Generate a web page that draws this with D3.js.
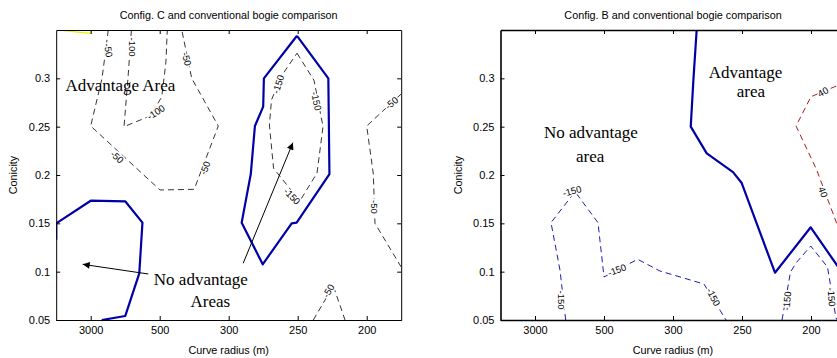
<!DOCTYPE html>
<html>
<head>
<meta charset="utf-8">
<script src="https://cdn.jsdelivr.net/npm/d3@7"></script>
<style>
  body { margin: 0; background: #fff; }
  text { fill: #000; }
</style>
</head>
<body>
<div id="chart"></div>
<script>
// x positions are indices of the radius grid, ticks sit on whole numbers
var xTickPos = [1, 2, 3, 4, 5];
var xTickLabels = ['3000', '500', '300', '250', '200'];
var yTicks = [0.05, 0.1, 0.15, 0.2, 0.25, 0.3];

// ---- Config. C panel ----
var cBlueA = [[0.5, 0.133], [0.5, 0.15], [1.0, 0.1734], [1.5, 0.1728], [1.75, 0.1507], [1.704, 0.0983], [1.5, 0.0541], [1.16, 0.05]];
var cBlueB = [[3.99, 0.344], [4.444, 0.300], [4.46, 0.201], [3.985, 0.1507], [3.913, 0.150], [3.493, 0.1076], [3.188, 0.1507], [3.32, 0.201], [3.38, 0.2507], [3.50, 0.2707], [3.51, 0.300], [3.99, 0.344]];
var cYellow = [[0.5, 0.35], [1.0, 0.3466], [1.0, 0.35]];
var cM50a = [[1.255, 0.35], [1.164, 0.30], [1.0, 0.2507], [2.004, 0.1845], [2.5, 0.1852], [2.849, 0.2507], [2.464, 0.30], [2.32, 0.35]];
var cM100 = [[1.59, 0.35], [1.54, 0.30], [1.483, 0.25], [1.86, 0.261], [2.03, 0.2807], [2.09, 0.317], [2.11, 0.35]];
var cM150 = [[3.99, 0.326], [4.236, 0.298], [4.367, 0.25], [4.28, 0.202], [4.03, 0.173], [3.65, 0.207], [3.59, 0.2517], [3.62, 0.2776], [3.76, 0.302], [3.99, 0.326]];
var cM50b = [[5.5, 0.2838], [5.0, 0.2507], [5.096, 0.201], [5.12, 0.150], [5.5, 0.1048]];
var cM50c = [[4.226, 0.05], [4.516, 0.0852], [4.686, 0.05]];
var cLabels = [
  ['-50', 1.255, 0.329, 80], ['-100', 1.606, 0.3324, 90], ['-50', 2.391, 0.32, 76],
  ['-100', 1.946, 0.265, -33], ['-50', 1.381, 0.2186, 42], ['-50', 2.657, 0.2072, -70],
  ['-150', 3.72, 0.294, -72], ['-150', 4.27, 0.2765, 78], ['-150', 3.917, 0.178, 45],
  ['-50', 5.36, 0.2745, -40], ['-50', 5.106, 0.167, 90], ['-50', 4.446, 0.08, -60]
];
var cArrows = [[[1.835, 0.0976], [0.884, 0.1076]], [[3.21, 0.1087], [3.93, 0.2334]]];
var cNotes = [['Advantage Area', 1.43, 0.287], ['No advantage', 2.596, 0.0862], ['Areas', 2.733, 0.0638]];

// ---- Config. B panel ----
var bBlue = [[3.343, 0.35], [3.297, 0.30], [3.257, 0.25], [3.489, 0.2224], [3.87, 0.203], [3.996, 0.1917], [4.478, 0.0989], [4.996, 0.1459], [5.5, 0.0939]];
var bM150a = [[1.445, 0.05], [1.362, 0.1017], [1.232, 0.1507], [1.58, 0.1827], [1.913, 0.1507], [2.0, 0.0945], [2.488, 0.1128], [2.81, 0.1007], [3.449, 0.0872], [3.768, 0.05]];
var bM150b = [[4.58, 0.05], [4.703, 0.0997], [4.783, 0.109], [4.996, 0.1265], [5.239, 0.1048], [5.362, 0.052], [5.384, 0.05]];
var bRed40 = [[5.5, 0.296], [5.0, 0.281], [4.783, 0.2507], [5.083, 0.2052], [5.372, 0.15], [5.5, 0.1257]];
var bLabels = [
  ['-150', 1.536, 0.1834, -15], ['-150', 1.387, 0.0707, 90], ['-150', 2.188, 0.1017, -20],
  ['-150', 3.584, 0.0738, 62], ['-150', 4.652, 0.0697, -85], ['-150', 5.297, 0.0738, 85]
];
var bRedLabels = [['40', 5.174, 0.286, -30], ['40', 5.174, 0.1824, 70]];
var bNotes = [['Advantage', 4.05, 0.300], ['area', 4.13, 0.281], ['No advantage', 1.81, 0.238], ['area', 1.80, 0.2137]];

var width = 837, height = 358;
var blue = '#0000a8', red = '#a80000';
var sans = 'Liberation Sans, Arial, sans-serif';

var svg = d3.select('#chart').append('svg')
  .attr('width', width)
  .attr('height', height);

svg.append('defs').append('marker')
  .attr('id', 'head')
  .attr('viewBox', '0 0 10 10')
  .attr('refX', 10).attr('refY', 5)
  .attr('markerWidth', 10).attr('markerHeight', 7)
  .attr('markerUnits', 'userSpaceOnUse')
  .attr('orient', 'auto')
  .append('path').attr('d', 'M0,0L10,5L0,10Z').attr('fill', '#000');

function panel(x0, x1, title, id, lw) {
  var x = d3.scaleLinear().domain([0.5, 5.5]).range([x0, x1]);
  var y = d3.scaleLinear().domain([0.05, 0.35]).range([320, 30]);
  var g = svg.append('g');

  g.append('clipPath').attr('id', id)
    .append('rect').attr('x', x0).attr('y', 30).attr('width', x1 - x0).attr('height', 290);

  var plot = g.append('g').attr('clip-path', 'url(#' + id + ')');

  var line = d3.line().x(function(d){ return x(d[0]); }).y(function(d){ return y(d[1]); });

  function axisStyle(a) {
    a.attr('font-family', sans).attr('font-size', 11);
    a.selectAll('.domain').attr('stroke', '#000').attr('stroke-width', lw);
    a.selectAll('.tick line').attr('stroke', '#000');
    a.selectAll('.tick text').attr('fill', '#111');
  }

  g.append('g').attr('transform', 'translate(0,320)')
    .call(d3.axisBottom(x).tickValues(xTickPos).tickFormat(function(d, i){ return xTickLabels[i]; })
      .tickSizeInner(-4).tickSizeOuter(0).tickPadding(6))
    .call(axisStyle);
  g.append('g').attr('transform', 'translate(0,30)')
    .call(d3.axisTop(x).tickValues(xTickPos).tickFormat('').tickSizeInner(-4).tickSizeOuter(0))
    .call(axisStyle);
  g.append('g').attr('transform', 'translate(' + x0 + ',0)')
    .call(d3.axisLeft(y).tickValues(yTicks).tickFormat(function(d){ return String(d); })
      .tickSizeInner(-4).tickSizeOuter(0).tickPadding(6))
    .call(axisStyle);
  g.append('g').attr('transform', 'translate(' + x1 + ',0)')
    .call(d3.axisRight(y).tickValues(yTicks).tickFormat('').tickSizeInner(-4).tickSizeOuter(0))
    .call(axisStyle);

  g.append('text')
    .attr('x', (x0 + x1) / 2).attr('y', 18.5)
    .attr('text-anchor', 'middle')
    .attr('font-family', sans).attr('font-size', 10.8)
    .text(title);
  g.append('text')
    .attr('x', (x0 + x1) / 2).attr('y', 354)
    .attr('text-anchor', 'middle')
    .attr('font-family', sans).attr('font-size', 10.8)
    .text('Curve radius (m)');
  g.append('text')
    .attr('transform', 'translate(' + (x0 - 39) + ',175) rotate(-90)')
    .attr('text-anchor', 'middle')
    .attr('font-family', sans).attr('font-size', 10.8)
    .text('Conicity');

  return { x: x, y: y, plot: plot, line: line, g: g };
}

function contour(p, pts, color, w, dash) {
  p.plot.append('path')
    .attr('d', p.line(pts))
    .attr('fill', 'none')
    .attr('stroke', color)
    .attr('stroke-width', w)
    .attr('stroke-dasharray', dash || null)
    .attr('stroke-linejoin', 'round');
}

function labels(p, list, color) {
  p.plot.selectAll(null)
    .data(list)
    .enter().append('text')
      .attr('transform', function(d){ return 'translate(' + p.x(d[1]) + ',' + p.y(d[2]) + ') rotate(' + d[3] + ')'; })
      .attr('text-anchor', 'middle')
      .attr('dy', '0.35em')
      .attr('font-family', sans)
      .attr('font-size', 9.5)
      .attr('stroke', '#fff').attr('stroke-width', 3).attr('paint-order', 'stroke')
      .style('fill', color)
      .text(function(d){ return d[0]; });
}

function notes(p, list) {
  p.g.selectAll(null)
    .data(list)
    .enter().append('text')
      .attr('x', function(d){ return p.x(d[1]); })
      .attr('y', function(d){ return p.y(d[2]); })
      .attr('text-anchor', 'middle')
      .attr('font-family', 'Liberation Serif, Times New Roman, serif')
      .attr('font-size', 17)
      .text(function(d){ return d[0]; });
}

// left panel
var pc = panel(56.2, 401.2, 'Config. C and conventional bogie comparison', 'clipC', 1);
[cM50a, cM100, cM150, cM50b, cM50c].forEach(function(c){ contour(pc, c, '#000', 0.8, '6,4'); });
labels(pc, cLabels, '#000');
contour(pc, cBlueA, blue, 2.2);
contour(pc, cBlueB, blue, 2.2);
contour(pc, cYellow, '#f0f000', 1.2);
cArrows.forEach(function(a){
  pc.g.append('line')
    .attr('x1', pc.x(a[0][0])).attr('y1', pc.y(a[0][1]))
    .attr('x2', pc.x(a[1][0])).attr('y2', pc.y(a[1][1]))
    .attr('stroke', '#000').attr('stroke-width', 1)
    .attr('marker-end', 'url(#head)');
});
notes(pc, cNotes);

// right panel
var pb = panel(500.5, 845.5, 'Config. B and conventional bogie comparison', 'clipB', 1.6);
contour(pb, bM150a, blue, 0.9, '6,4');
contour(pb, bM150b, blue, 0.9, '6,4');
contour(pb, bRed40, red, 0.9, '6,4');
labels(pb, bLabels, '#000');
labels(pb, bRedLabels, '#000');
contour(pb, bBlue, blue, 2.2);
notes(pb, bNotes);
</script>
</body>
</html>
